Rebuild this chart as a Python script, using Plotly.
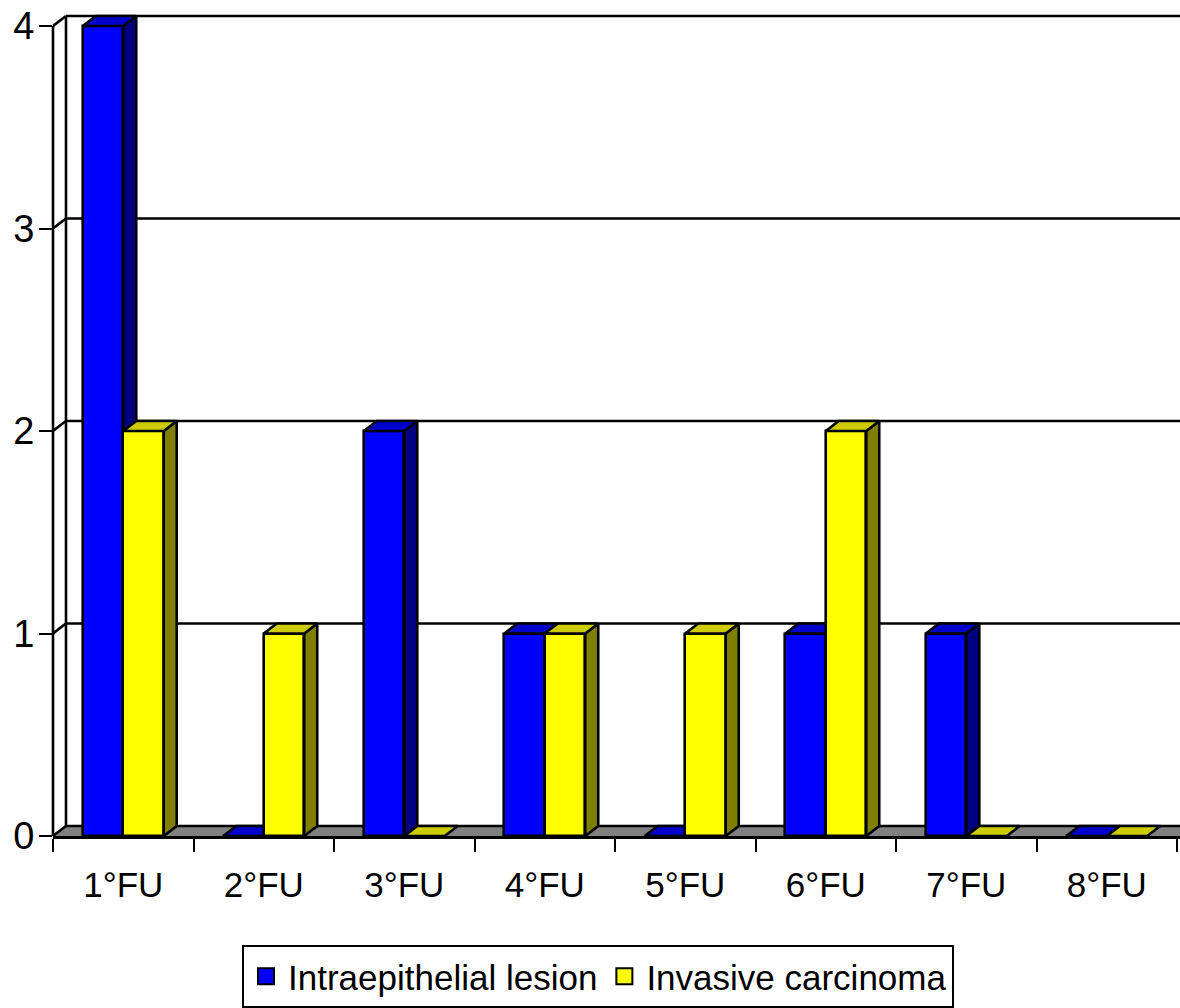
import plotly.graph_objects as go

# Cases recorded at each follow-up visit
categories = ["1°FU", "2°FU", "3°FU", "4°FU", "5°FU", "6°FU", "7°FU", "8°FU"]
lesion_name = "Intraepithelial lesion"
carcinoma_name = "Invasive carcinoma"
lesion_values = [4, 0, 2, 1, 0, 1, 1, 0]
carcinoma_values = [2, 1, 0, 1, 1, 2, 0, 0]
y_ticks = [0, 1, 2, 3, 4]

# Oblique projection of the bars' depth, in axis units
DEPTH_X = 13 / 140.5
DEPTH_Y = 10 / 202.5
BAR_WIDTH = 0.288
X_RANGE = [-0.5, 7.521]
Y_RANGE = [0, 4.079]
FONT = "Liberation Sans"
FONT_SIZE = 35
EDGE = 2.6
positions = list(range(len(categories)))


def side_faces(values, left):
    xs, ys = [], []
    for pos, val in zip(positions, values):
        if val == 0:
            continue
        right = pos + left + BAR_WIDTH
        xs += [right, right + DEPTH_X, right + DEPTH_X, right, right, None]
        ys += [0, DEPTH_Y, val + DEPTH_Y, val, 0, None]
    return xs, ys


def top_faces(values, left):
    xs, ys = [], []
    for pos, val in zip(positions, values):
        x0 = pos + left
        x1 = x0 + BAR_WIDTH
        xs += [x0, x0 + DEPTH_X, x1 + DEPTH_X, x1, x0, None]
        ys += [val, val + DEPTH_Y, val + DEPTH_Y, val, val, None]
    return xs, ys


def polygon(xy, color, xaxis, yaxis):
    return go.Scatter(
        x=xy[0], y=xy[1], mode="lines", fill="toself", fillcolor=color,
        line=dict(color="black", width=EDGE), xaxis=xaxis, yaxis=yaxis,
        hoverinfo="skip", showlegend=False, cliponaxis=False,
    )


def series(values, name, left, front, side, top, xaxis, yaxis):
    bar = go.Bar(
        x=positions, y=values, width=BAR_WIDTH, offset=left, name=name,
        marker=dict(color=front, line=dict(color="black", width=EDGE)),
        xaxis=xaxis, yaxis=yaxis, showlegend=False, legendgroup=name,
    )
    key = go.Scatter(
        x=[None], y=[None], mode="markers", name=name, legendgroup=name,
        marker=dict(symbol="square", size=16, color=front,
                    line=dict(color="black", width=2)),
        xaxis=xaxis, yaxis=yaxis,
    )
    return [
        bar,
        polygon(side_faces(values, left), side, xaxis, yaxis),
        polygon(top_faces(values, left), top, xaxis, yaxis),
        key,
    ]


fig = go.Figure()
# The second series sits on an overlaid subplot so its fronts hide the first series' sides
fig.add_traces(series(lesion_values, lesion_name, -BAR_WIDTH,
                      "#0000FF", "#000080", "#0000CC", "x", "y"))
fig.add_traces(series(carcinoma_values, carcinoma_name, 0,
                      "#FFFF00", "#808000", "#CCCC00", "x2", "y2"))

black_line = dict(color="black", width=EDGE)
back_x = X_RANGE[0] + DEPTH_X
shapes = [
    # Floor
    dict(type="path", layer="below", xref="x", yref="y",
         path=(f"M{X_RANGE[0]},0 L{back_x},{DEPTH_Y} L{X_RANGE[1]},{DEPTH_Y} "
               f"L{X_RANGE[1]},0 Z"),
         fillcolor="#808080", line=dict(width=0)),
    dict(type="line", layer="below", xref="x", yref="y", x0=back_x, x1=X_RANGE[1],
         y0=DEPTH_Y, y1=DEPTH_Y, line=black_line),
    # Back wall edge and front axis line
    dict(type="line", layer="below", xref="x", yref="y", x0=back_x, x1=back_x,
         y0=DEPTH_Y, y1=y_ticks[-1] + DEPTH_Y, line=black_line),
    dict(type="line", layer="above", xref="paper", yref="y", x0=0, x1=0,
         y0=0, y1=y_ticks[-1], line=black_line),
]
for tick in y_ticks:
    # Gridline on the back wall and its diagonal on the side wall
    if tick > 0:
        shapes.append(dict(type="line", layer="below", xref="x", yref="y",
                           x0=back_x, x1=X_RANGE[1], y0=tick + DEPTH_Y, y1=tick + DEPTH_Y,
                           line=black_line))
    shapes.append(dict(type="line", layer="below", xref="x", yref="y",
                       x0=X_RANGE[0], x1=back_x, y0=tick, y1=tick + DEPTH_Y,
                       line=black_line))

fig.update_layout(
    width=1180, height=1008,
    margin=dict(l=53, r=0, t=10, b=172, pad=0, autoexpand=False),
    paper_bgcolor="white", plot_bgcolor="white",
    font=dict(family=FONT, size=FONT_SIZE, color="black"),
    shapes=shapes,
    bargap=0,
    hovermode=False,
    showlegend=True,
    legend=dict(
        orientation="h", x=(242 - 53) / 1127, xanchor="left",
        y=-109 / 826, yanchor="top", bgcolor="white",
        bordercolor="black", borderwidth=2, itemwidth=34,
        font=dict(family=FONT, size=FONT_SIZE, color="black"),
        traceorder="normal", itemclick=False, itemdoubleclick=False,
    ),
    xaxis=dict(
        range=X_RANGE, tickmode="array", tickvals=positions, ticktext=categories,
        ticks="", showgrid=False, zeroline=False, showline=True,
        linecolor="black", linewidth=3, ticklabelstandoff=16,
        minor=dict(ticks="outside", ticklen=13, tickwidth=2, tickcolor="black",
                   tick0=-0.5, dtick=1, showgrid=False),
    ),
    yaxis=dict(
        range=Y_RANGE, tickmode="array", tickvals=y_ticks, ticks="outside",
        ticklen=13, tickwidth=2, tickcolor="black", showgrid=False,
        zeroline=False, showline=False, ticklabelstandoff=-3,
        tickfont=dict(family=FONT, size=38, color="black"),
    ),
    xaxis2=dict(range=X_RANGE, overlaying="x", visible=False),
    yaxis2=dict(range=Y_RANGE, overlaying="y", visible=False),
)

fig.write_html("out.html", config=dict(displayModeBar=False))
